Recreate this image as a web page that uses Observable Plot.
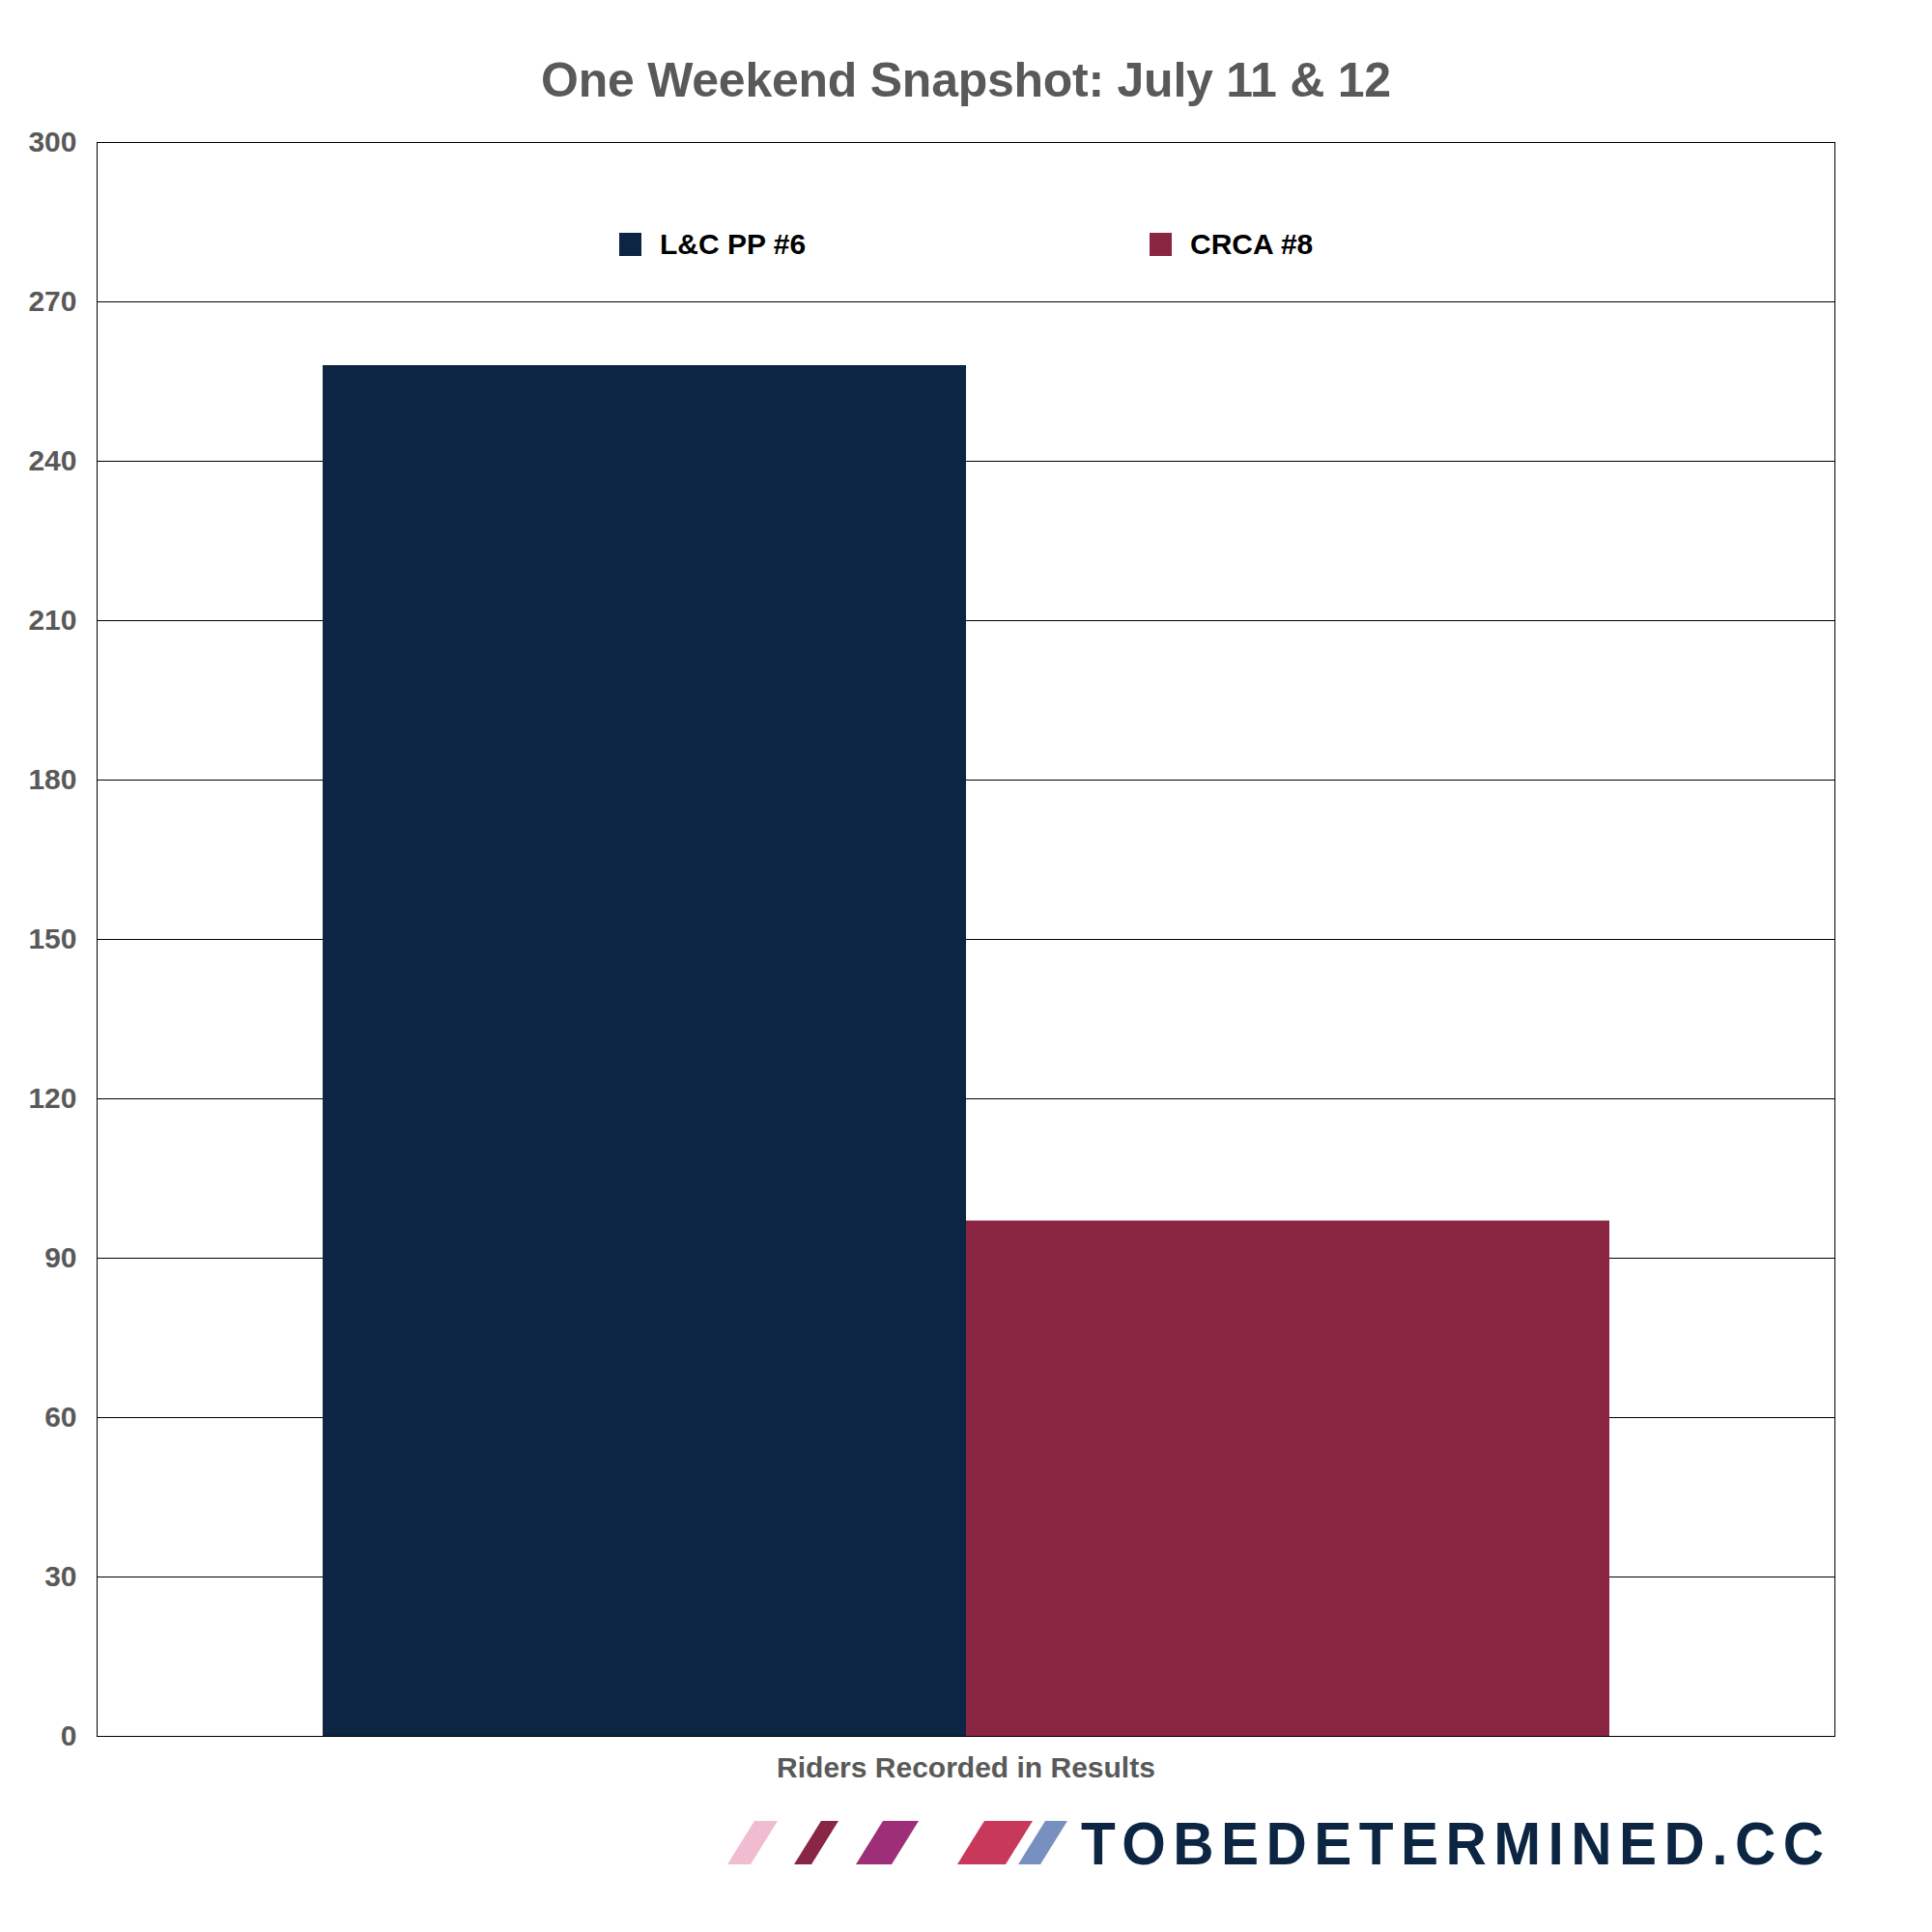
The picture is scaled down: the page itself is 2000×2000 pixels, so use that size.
<!DOCTYPE html>
<html>
<head>
<meta charset="utf-8">
<script src="https://cdn.jsdelivr.net/npm/d3@7"></script>
<script src="https://cdn.jsdelivr.net/npm/@observablehq/plot@0.6"></script>
<style>
  html, body { margin: 0; padding: 0; background: #fff; }
  #wrap { position: relative; width: 2000px; font-family: "Liberation Sans", Arial, Helvetica, sans-serif; font-weight: bold; }
  #title { height: 120px; box-sizing: border-box; padding-top: 58px; line-height: 51px; font-size: 50px; letter-spacing: -0.25px; color: #595959; text-align: center; white-space: nowrap; }
  #legend { position: absolute; top: 241px; left: 641px; display: flex; }
  .item { display: flex; align-items: center; width: 549px; height: 24px; }
  .sw { width: 23px; height: 24px; margin-right: 19px; flex: none; }
  .lab { font-size: 30px; line-height: 24px; color: #000; white-space: nowrap; }
  #logo { display: block; }
</style>
</head>
<body>
<div id="wrap">
  <div id="title"></div>
  <div id="chart"></div>
  <div id="legend"></div>
  <div id="logoBox"></div>
</div>
<script>
// ---- data ----
const series = ["L&C PP #6", "CRCA #8"];
const values = [258, 97];
const category = "Riders Recorded in Results";
const colors = ["#0b2542", "#8a2542"];
const yTicks = [0, 30, 60, 90, 120, 150, 180, 210, 240, 270, 300];
const titleText = "One Weekend Snapshot: July 11 & 12";
const logoText = "TOBEDETERMINED.CC";
const logoColors = ["#f0bdd0", "#8a2645", "#9e2e78", "#c8385a", "#7890c0"];

const data = series.map((s, i) => ({series: s, value: values[i]}));

document.getElementById("title").textContent = titleText;

const chart = Plot.plot({
  width: 2000,
  height: 1747,
  marginTop: 27,
  marginLeft: 100,
  marginRight: 101,
  marginBottom: 70,
  style: {fontFamily: "'Liberation Sans', Arial, Helvetica, sans-serif", fontWeight: "bold", fontSize: "30px", color: "#595959", background: "#fff"},
  x: {domain: series, paddingInner: 0, paddingOuter: 0.35, axis: null},
  y: {domain: [0, 300], axis: null},
  color: {domain: series, range: colors},
  marks: [
    Plot.gridY(yTicks, {stroke: "#000", strokeOpacity: 1, strokeWidth: 1}),
    Plot.barY(data, {x: "series", y: "value", fill: "series"}),
    Plot.frame({stroke: "#000", strokeWidth: 1}),
    Plot.axisY(yTicks, {tickSize: 0, tickPadding: 21, fontSize: 30, fontWeight: "bold", label: null}),
    Plot.text([category], {text: d => d, frameAnchor: "bottom", lineAnchor: "top", dy: 21, fontSize: 30, fontWeight: "bold", fill: "#595959"})
  ]
});
chart.style.display = "block";
document.getElementById("chart").appendChild(chart);

// legend
const legend = document.getElementById("legend");
series.forEach((s, i) => {
  const item = document.createElement("div");
  item.className = "item";
  const sw = document.createElement("div");
  sw.className = "sw";
  sw.style.background = colors[i];
  const lab = document.createElement("div");
  lab.className = "lab";
  lab.textContent = s;
  item.appendChild(sw);
  item.appendChild(lab);
  legend.appendChild(item);
});

// logo (decorative brand mark)
const slashes = [[753, 777], [822, 840], [886, 923], [991, 1041], [1054, 1077]];
const ns = "http://www.w3.org/2000/svg";
const logo = document.createElementNS(ns, "svg");
logo.setAttribute("id", "logo");
logo.setAttribute("width", 2000);
logo.setAttribute("height", 133);
slashes.forEach(([a, b], i) => {
  const p = document.createElementNS(ns, "polygon");
  p.setAttribute("points", `${a},63 ${b},63 ${b + 28},18 ${a + 28},18`);
  p.setAttribute("fill", logoColors[i]);
  logo.appendChild(p);
});
const g = document.createElementNS(ns, "g");
const sx = 0.93;
g.setAttribute("transform", `translate(1119,63) scale(${sx},1)`);
const t = document.createElementNS(ns, "text");
t.setAttribute("x", 0);
t.setAttribute("y", 0);
t.setAttribute("font-family", "'Liberation Sans', Arial, sans-serif");
t.setAttribute("font-weight", "bold");
t.setAttribute("font-size", 63);
t.setAttribute("fill", "#0b2542");
t.setAttribute("textLength", 769 / sx);
t.setAttribute("lengthAdjust", "spacing");
t.textContent = logoText;
g.appendChild(t);
logo.appendChild(g);
document.getElementById("logoBox").appendChild(logo);
</script>
</body>
</html>
